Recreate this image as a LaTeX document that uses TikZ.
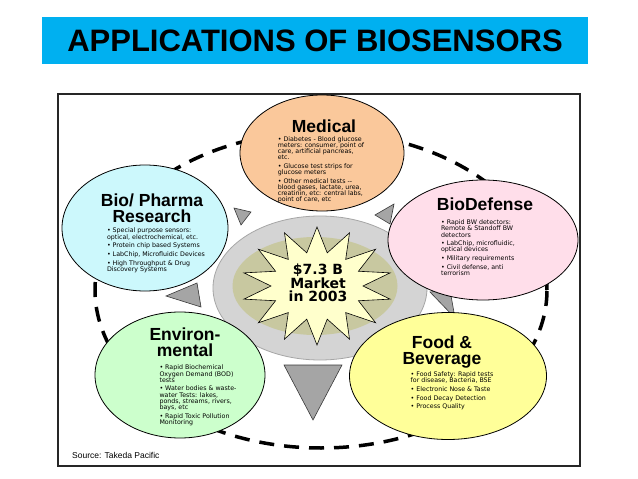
\documentclass[tikz,border=0pt]{standalone}
\usepackage{fontspec}
\setmainfont{Liberation Sans}
\newfontfamily\listface{DejaVu Sans}
\usetikzlibrary{shapes.geometric, positioning}

\definecolor{barblue}{RGB}{0,176,240}
\definecolor{medfill}{RGB}{250,200,155}
\definecolor{pharmafill}{RGB}{204,248,252}
\definecolor{defensefill}{RGB}{255,222,234}
\definecolor{envfill}{RGB}{204,255,204}
\definecolor{foodfill}{RGB}{255,255,153}
\definecolor{discgray}{RGB}{212,212,212}
\definecolor{corekhaki}{RGB}{200,200,160}
\definecolor{starfill}{RGB}{255,255,204}
\definecolor{wedgegray}{RGB}{165,165,165}

\begin{document}
\begin{tikzpicture}[
    x=1pt, y=-1pt,
    catnode/.style={ellipse, draw=black, line width=0.8pt, inner sep=0pt},
    cattitle/.style={font=\fontsize{17.5}{16.5}\selectfont\bfseries, align=center, inner sep=0pt},
    catlist/.style={font=\listface\fontsize{6.3}{6.2}\selectfont, align=left, inner sep=0pt},
    wedge/.style={fill=wedgegray, draw=gray!45!black, line width=0.6pt}
]
\useasboundingbox[fill=white] (0,0) rectangle (638,479);

% title bar and frame
\node[fill=barblue, minimum width=546, minimum height=47, inner sep=0pt, font=\fontsize{31}{31}\selectfont\bfseries] (title) at (315,40.5) {APPLICATIONS OF BIOSENSORS};
\draw[black!85, line width=1.2pt] (58,94) rectangle (580,466);

% dashed ring
\draw[line width=3.5pt, dash pattern=on 15pt off 10pt] (321,290) ellipse [x radius=226pt, y radius=158pt];

% centre disc and burst
\node[ellipse, fill=discgray, draw=gray!70, line width=0.8pt, minimum width=214, minimum height=144] (disc) at (320,288) {};
\node[ellipse, fill=corekhaki, minimum width=165, minimum height=98] (core) at (315,286) {};
\draw[fill=starfill, draw=black, line width=0.6pt, shift={(317,286)}]
    (90:75pt and 59pt) \foreach \k in {1,...,14} { -- ({90+(\k-0.5)*360/14}:46pt and 34pt) -- ({90+\k*360/14}:75pt and 59pt) } -- cycle;
\node[font=\listface\bfseries\fontsize{14}{13.5}\selectfont, align=center, inner sep=0pt] (market) at (318,283) {\$7.3 B\\Market\\in 2003};

% wedges between the sectors
\draw[wedge] (234,208) -- (251,212) -- (241,225) -- cycle;
\draw[wedge] (375,215) -- (394,204) -- (390,224) -- cycle;
\draw[wedge] (166,296) -- (197,283) -- (201,307) -- cycle;
\draw[wedge] (430,292) -- (450,290) -- (455,318) -- cycle;
\draw[wedge] (284,365) -- (342,365) -- (313,420) -- cycle;

% sectors
\node[catnode, fill=medfill, minimum width=164, minimum height=116] (medical) at (322,153) {};
\node[catnode, fill=pharmafill, minimum width=166, minimum height=126] (pharma) at (145,228) {};
\node[catnode, fill=defensefill, minimum width=190, minimum height=120] (defense) at (483,240) {};
\node[catnode, fill=envfill, minimum width=170, minimum height=126] (environ) at (180,375) {};
\node[catnode, fill=foodfill, minimum width=197, minimum height=127] (food) at (448,376) {};

\node[cattitle] (medT) at (324,126) {Medical};
\node[catlist, below=3.5pt of medT, xshift=-3pt] (medL) {%
• Diabetes - Blood glucose\\ meters: consumer, point of\\ care, artificial pancreas,\\ etc.\\[2.5pt]
• Glucose test strips for\\ glucose meters\\[2.5pt]
• Other medical tests --\\ blood gases, lactate, urea,\\ creatinin, etc: central labs,\\ point of care, etc};

\node[cattitle] (pharmaT) at (152,208) {Bio/ Pharma\\Research};
\node[catlist, below=5pt of pharmaT, xshift=4pt] (pharmaL) {%
• Special purpose sensors:\\ optical, electrochemical, etc.\\[2.5pt]
• Protein chip based Systems\\[2.5pt]
• LabChip, Microfluidic Devices\\[2.5pt]
• High Throughput \& Drug\\ Discovery Systems};

\node[cattitle] (defenseT) at (485,204) {BioDefense};
\node[catlist, below=9pt of defenseT, xshift=-7pt] (defenseL) {%
• Rapid BW detectors:\\ Remote \& Standoff BW\\ detectors\\[2.5pt]
• LabChip, microfluidic,\\ optical devices\\[2.5pt]
• Military requirements\\[2.5pt]
• Civil defense, anti\\ terrorism};

\node[cattitle] (environT) at (185,342) {Environ-\\mental};
\node[catlist, below=8pt of environT, xshift=13pt] (environL) {%
• Rapid Biochemical\\ Oxygen Demand (BOD)\\ tests\\[2.5pt]
• Water bodies \& waste-\\ water Tests: lakes,\\ ponds, streams, rivers,\\ bays, etc\\[2.5pt]
• Rapid Toxic Pollution\\ Monitoring};

\node[cattitle] (foodT) at (442,352) {Food \&\\Beverage};
\node[catlist, below=3pt of foodT, xshift=10pt] (foodL) {%
• Food Safety: Rapid tests\\ for disease, Bacteria, BSE\\[2.5pt]
• Electronic Nose \& Taste\\[2.5pt]
• Food Decay Detection\\[2.5pt]
• Process Quality};

\node[anchor=west, inner sep=0pt, font=\fontsize{8.5}{10}\selectfont] (source) at (72,455) {Source: Takeda Pacific};
\end{tikzpicture}
\end{document}
